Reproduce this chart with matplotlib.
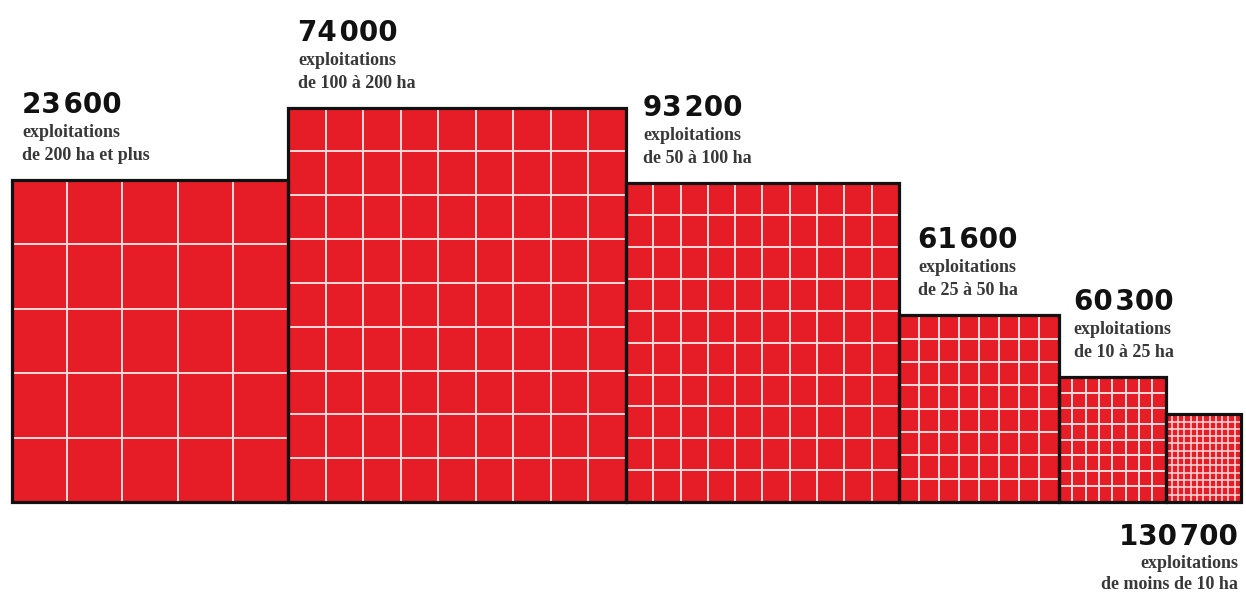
import matplotlib
matplotlib.use("Agg")
import numpy as np
import matplotlib.pyplot as plt
from matplotlib.patches import Rectangle
from matplotlib.collections import LineCollection

# Farm size classes, number of farms, farmland area (million ha) and grid cells per side
categories = ["de 200 ha et plus", "de 100 à 200 ha", "de 50 à 100 ha",
              "de 25 à 50 ha", "de 10 à 25 ha", "de moins de 10 ha"]
farm_counts = [23600, 74000, 93200, 61600, 60300, 130700]
surface_mha = [7.0, 10.5, 6.85, 2.35, 1.05, 0.52]
grid_side = [5, 9, 10, 8, 8, 12]

# Layout / style
RED = "#e61c27"
GRID = "#fddcdc"
ASPECT = 1.167            # block height / block width
PX = 104.3                # pixels per data unit (sqrt of million ha)
W_PX, H_PX = 1246, 593
LEFT_PX, BASE_PX = 12, 502
label_dx = [10, 10, 17, 19, 15]

fig = plt.figure(figsize=(W_PX / 100, H_PX / 100), dpi=100)
ax = fig.add_axes([0, 0, 1, 1])
ax.set_xlim(-LEFT_PX / PX, (W_PX - LEFT_PX) / PX)
ax.set_ylim(-(H_PX - BASE_PX) / PX, BASE_PX / PX)
ax.axis("off")

widths = np.sqrt(surface_mha)
heights = widths * ASPECT
lefts = np.concatenate([[0], np.cumsum(widths)[:-1]])

num_font = dict(family=["DejaVu Sans"], fontweight="bold", fontsize=20, color="#111111")
sub_font = dict(family=["Liberation Serif", "DejaVu Serif"], fontweight="bold",
                fontsize=13, color="#383838")


def fmt(n):
    return f"{n:,}".replace(",", "\u200a")


for i, (x0, w, h, n) in enumerate(zip(lefts, widths, heights, grid_side)):
    ax.add_patch(Rectangle((x0, 0), w, h, facecolor=RED, edgecolor="none", zorder=1))
    segs = []
    for k in range(1, n):
        xv = x0 + w * k / n
        segs.append([(xv, 0), (xv, h)])
        yv = h * k / n
        segs.append([(x0, yv), (x0 + w, yv)])
    lw = 1.4 if n < 12 else 1.1
    ax.add_collection(LineCollection(segs, colors=GRID, linewidths=lw, zorder=2))

for x0, w, h in zip(lefts, widths, heights):
    ax.add_patch(Rectangle((x0, 0), w, h, facecolor="none", edgecolor="#111111",
                           linewidth=2.3, joinstyle="miter", zorder=3))

# Labels above the first five blocks
for i in range(5):
    x0, h = lefts[i], heights[i]
    for dy, txt, fnt in [(67, fmt(farm_counts[i]), num_font),
                         (43, "exploitations", sub_font),
                         (20, categories[i], sub_font)]:
        ax.annotate(txt, xy=(x0, h), xytext=(label_dx[i], dy), textcoords="offset pixels",
                    ha="left", va="baseline", **fnt)

# Label below the smallest block
x_right = lefts[5] + widths[5]
for dy, txt, fnt in [(-43, fmt(farm_counts[5]), num_font),
                     (-66, "exploitations", sub_font),
                     (-87, categories[5], sub_font)]:
    ax.annotate(txt, xy=(x_right, 0), xytext=(-3, dy), textcoords="offset pixels",
                ha="right", va="baseline", **fnt)

fig.savefig("out.png", dpi=100, facecolor="white")
